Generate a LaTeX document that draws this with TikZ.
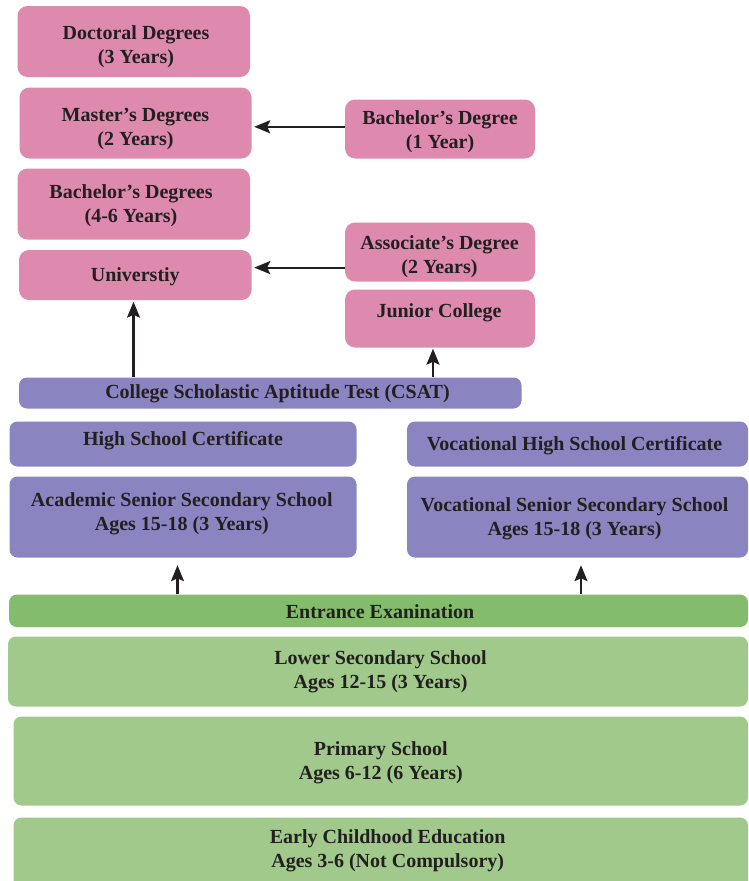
\documentclass[tikz,border=0pt]{standalone}
\usepackage{fontspec}
\setmainfont{Liberation Serif}
\usetikzlibrary{arrows.meta}

\definecolor{pinkbg}{HTML}{DE8AAF}
\definecolor{lilac}{HTML}{8A85C1}
\definecolor{grndark}{HTML}{83BC6A}
\definecolor{grnlite}{HTML}{A1C98B}
\definecolor{ink}{HTML}{231F20}

\begin{document}
\begin{tikzpicture}[x=1pt,y=-1pt,
	box/.style={inner sep=0pt},
	pinkbox/.style={box,fill=pinkbg,rounded corners=10pt},
	lilacbox/.style={box,fill=lilac,rounded corners=8pt},
	exambox/.style={box,fill=grndark,rounded corners=8pt},
	grnbox/.style={box,fill=grnlite,rounded corners=8pt},
	txt/.style={font=\fontsize{20}{24}\selectfont\bfseries,text=ink,align=center,inner sep=0pt},
	arr/.style={draw=ink,line width=2.2pt,-{Stealth[length=16pt,width=13pt,inset=3pt]}}]
		\useasboundingbox (0,0) rectangle (748,881);
		
		% university track
		\node[pinkbox,minimum width=232.5pt,minimum height=71pt] (doct) at (133.75,41.5) {};
		\node[txt] (doctT) at (136,46.5) {Doctoral Degrees\\(3 Years)};
		\node[pinkbox,minimum width=232pt,minimum height=71pt] (mast) at (135.5,123) {};
		\node[txt] (mastT) at (135.5,129) {Master’s Degrees\\(2 Years)};
		\node[pinkbox,minimum width=232.5pt,minimum height=71pt] (bachd) at (133.75,204) {};
		\node[txt] (bachdT) at (131,205.5) {Bachelor’s Degrees\\(4-6 Years)};
		\node[pinkbox,minimum width=232.5pt,minimum height=50pt] (univ) at (135.25,275) {};
		\node[txt] (univT) at (135.3,277) {Universtiy};
		
		% junior college track
		\node[pinkbox,minimum width=190pt,minimum height=59pt] (bach1) at (440,129) {};
		\node[txt] (bach1T) at (440,131.7) {Bachelor’s Degree\\(1 Year)};
		\node[pinkbox,minimum width=190pt,minimum height=59pt] (assoc) at (440,252) {};
		\node[txt] (assocT) at (439.5,256.7) {Associate’s Degree\\(2 Years)};
		\node[pinkbox,minimum width=190pt,minimum height=58pt] (jcol) at (440,318.5) {};
		\node[txt] (jcolT) at (439,313) {Junior College};
		
		% senior secondary
		\node[lilacbox,minimum width=502.5pt,minimum height=31pt] (csat) at (270.25,393) {};
		\node[txt] (csatT) at (277.5,393.3) {College Scholastic Aptitude Test (CSAT)};
		\node[lilacbox,minimum width=347pt,minimum height=45pt] (hsc) at (183,444) {};
		\node[txt] (hscT) at (183,441) {High School Certificate};
		\node[lilacbox,minimum width=341pt,minimum height=45pt] (vhsc) at (577.5,444) {};
		\node[txt] (vhscT) at (574.5,445.8) {Vocational High School Certificate};
		\node[lilacbox,minimum width=347pt,minimum height=81pt] (acad) at (183,517) {};
		\node[txt] (acadT) at (181.8,513.3) {Academic Senior Secondary School\\Ages 15-18 (3 Years)};
		\node[lilacbox,minimum width=341pt,minimum height=81pt] (voc) at (577.5,517) {};
		\node[txt] (vocT) at (574.5,518.3) {Vocational Senior Secondary School\\Ages 15-18 (3 Years)};
		
		% compulsory schooling
		\node[exambox,minimum width=739pt,minimum height=32.5pt] (entr) at (378.5,610.75) {};
		\node[txt] (entrT) at (380,611.5) {Entrance Exanination};
		\node[grnbox,minimum width=740pt,minimum height=70pt] (lows) at (378,671.5) {};
		\node[txt] (lowsT) at (380.5,671.3) {Lower Secondary School\\Ages 12-15 (3 Years)};
		\node[grnbox,minimum width=734.5pt,minimum height=89pt] (prim) at (380.75,761) {};
		\node[txt] (primT) at (380.8,762.7) {Primary School\\Ages 6-12 (6 Years)};
		\node[grnbox,minimum width=734.5pt,minimum height=82.5pt] (early) at (380.75,858.75) {};
		\node[txt] (earlyT) at (387.7,850.3) {Early Childhood Education\\Ages 3-6 (Not Compulsory)};
		
		\coordinate (brow) at (0,126.8);
		\coordinate (arow) at (0,267.6);
		\coordinate (ux) at (133.5,0);
		\coordinate (jx) at (433,0);
		\coordinate (ax) at (177.5,0);
		\coordinate (vx) at (581,0);
		
		\draw[arr,shorten >=2.5pt] (bach1.west |- brow) -- (mast.east |- brow);
		\draw[arr,shorten >=2.5pt] (assoc.west |- arow) -- (univ.east |- arow);
		\draw[arr,shorten >=1.5pt] (csat.north -| ux) -- (univ.south -| ux);
		\draw[arr,shorten >=1pt] (csat.north -| jx) -- (jcol.south -| jx);
		\draw[arr,shorten >=7.5pt] (entr.north -| ax) -- (acad.south -| ax);
		\draw[arr,shorten >=7.5pt] (entr.north -| vx) -- (voc.south -| vx);
	\end{tikzpicture}
\end{document}
